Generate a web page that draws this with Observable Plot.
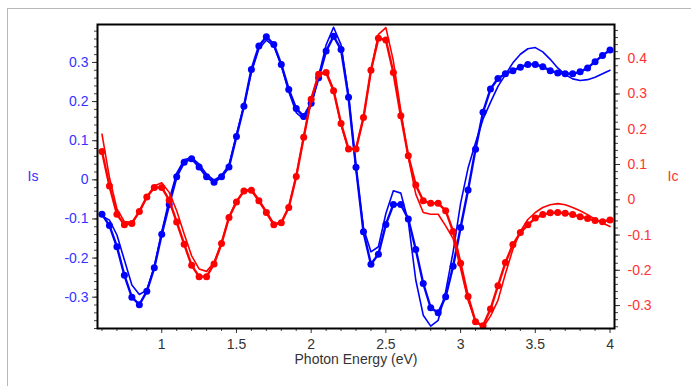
<!DOCTYPE html>
<html>
<head>
<meta charset="utf-8">
<script src="https://cdn.jsdelivr.net/npm/d3@7"></script>
<script src="https://cdn.jsdelivr.net/npm/@observablehq/plot@0.6"></script>
<style>
  html, body { margin: 0; padding: 0; background: #fff; }
  #wrap { position: relative; width: 691px; height: 386px; overflow: hidden; }
  #border { position: absolute; left: 7px; top: 8px; right: -5px; bottom: -5px; border-left: 1px solid #b8b8b8; border-top: 1px solid #b8b8b8; }
  #chart { position: absolute; left: 0; top: 0; }
</style>
</head>
<body>
<div id="wrap"><div id="border"></div><div id="chart"></div></div>
<script>
const energy = [0.6,0.65,0.7,0.75,0.8,0.85,0.9,0.95,1.0,1.05,1.1,1.15,1.2,1.25,1.3,1.35,1.4,1.45,1.5,1.55,1.6,1.65,1.7,1.75,1.8,1.85,1.9,1.95,2.0,2.05,2.1,2.15,2.2,2.25,2.3,2.35,2.4,2.45,2.5,2.55,2.6,2.65,2.7,2.75,2.8,2.85,2.9,2.95,3.0,3.05,3.1,3.15,3.2,3.25,3.3,3.35,3.4,3.45,3.5,3.55,3.6,3.65,3.7,3.75,3.8,3.85,3.9,3.95,4.0];

const isData = [-0.088,-0.117,-0.171,-0.244,-0.300,-0.319,-0.285,-0.225,-0.139,-0.063,0.008,0.045,0.054,0.033,0.008,-0.006,0.008,0.033,0.111,0.188,0.282,0.342,0.366,0.346,0.295,0.231,0.182,0.162,0.196,0.261,0.329,0.367,0.333,0.211,0.032,-0.133,-0.216,-0.190,-0.114,-0.063,-0.063,-0.100,-0.178,-0.265,-0.327,-0.340,-0.299,-0.221,-0.122,-0.026,0.078,0.173,0.232,0.259,0.271,0.279,0.288,0.295,0.295,0.289,0.279,0.273,0.271,0.271,0.276,0.286,0.302,0.318,0.332];

const isFit = [-0.092,-0.103,-0.141,-0.205,-0.269,-0.293,-0.282,-0.222,-0.133,-0.051,0.017,0.051,0.057,0.040,0.014,-0.001,0.011,0.038,0.115,0.190,0.275,0.335,0.357,0.342,0.292,0.225,0.172,0.155,0.190,0.265,0.345,0.390,0.345,0.215,0.030,-0.124,-0.184,-0.171,-0.086,-0.028,-0.034,-0.107,-0.256,-0.346,-0.374,-0.359,-0.286,-0.184,-0.060,0.030,0.095,0.155,0.198,0.239,0.269,0.299,0.321,0.335,0.338,0.327,0.308,0.286,0.269,0.258,0.254,0.256,0.262,0.271,0.280];

const icData = [0.137,0.039,-0.041,-0.071,-0.067,-0.033,0.008,0.035,0.035,-0.001,-0.063,-0.126,-0.186,-0.218,-0.218,-0.182,-0.124,-0.050,-0.006,0.025,0.027,-0.003,-0.036,-0.071,-0.065,-0.022,0.066,0.177,0.285,0.356,0.361,0.309,0.216,0.144,0.144,0.233,0.367,0.458,0.453,0.361,0.238,0.125,0.042,-0.003,-0.010,-0.010,-0.031,-0.090,-0.180,-0.274,-0.346,-0.357,-0.310,-0.244,-0.178,-0.127,-0.093,-0.071,-0.052,-0.042,-0.037,-0.036,-0.038,-0.042,-0.048,-0.053,-0.059,-0.062,-0.057];

const icFit = [0.186,0.063,-0.026,-0.062,-0.064,-0.036,0.008,0.039,0.048,0.021,-0.031,-0.097,-0.159,-0.196,-0.203,-0.178,-0.121,-0.050,-0.004,0.026,0.030,0.000,-0.034,-0.068,-0.064,-0.020,0.068,0.178,0.284,0.356,0.365,0.312,0.212,0.142,0.146,0.233,0.365,0.469,0.488,0.394,0.252,0.120,0.016,-0.036,-0.041,-0.041,-0.074,-0.110,-0.195,-0.285,-0.345,-0.362,-0.330,-0.285,-0.210,-0.140,-0.090,-0.056,-0.036,-0.022,-0.014,-0.011,-0.014,-0.022,-0.031,-0.042,-0.055,-0.066,-0.076];

const xTicks = [1, 1.5, 2, 2.5, 3, 3.5, 4];
const leftTicks = [-0.3, -0.2, -0.1, 0, 0.1, 0.2, 0.3];
const rightTicks = [-0.3, -0.2, -0.1, 0, 0.1, 0.2, 0.3, 0.4];
const xLabel = "Photon Energy (eV)";
const leftLabel = "Is";
const rightLabel = "Ic";

const xDomain = [0.57, 4.03];
const leftDomain = [-0.38, 0.397];
const rightDomain = [-0.365, 0.497];

const BLUE = "#0000ff", RED = "#ff0000";
const BLUE_TXT = "#3333ff", RED_TXT = "#ff3333";

// map right-axis (Ic) values onto the left (Is) scale
const k = (leftDomain[1] - leftDomain[0]) / (rightDomain[1] - rightDomain[0]);
const toLeft = w => leftDomain[0] + (w - rightDomain[0]) * k;
const fromLeft = v => rightDomain[0] + (v - leftDomain[0]) / k;
const fmt = d => String(Math.round(d * 10) / 10);

const rows = energy.map((e, i) => ({e, isD: isData[i], isF: isFit[i], icD: toLeft(icData[i]), icF: toLeft(icFit[i])}));

const xMinor = d3.range(6, 41).map(v => v / 10).filter(v => !xTicks.includes(v));
const leftMinor = d3.range(-19, 20).map(v => v / 50).filter(v => v >= leftDomain[0] && v <= leftDomain[1]);
const rightMinor = d3.range(-18, 25).map(v => v / 50).filter(v => v >= rightDomain[0] && v <= rightDomain[1]);

const chart = Plot.plot({
  width: 691,
  height: 386,
  marginLeft: 97,
  marginRight: 77,
  marginTop: 24,
  marginBottom: 58,
  style: {fontFamily: "'Liberation Sans', Arial, sans-serif", fontSize: "14px", background: "transparent"},
  x: {domain: xDomain, label: null},
  y: {domain: leftDomain, label: null},
  marks: [
    // x axis
    Plot.axisX({ticks: xMinor, tickSize: 3, tickFormat: () => "", color: "#444", label: null}),
    Plot.axisX({ticks: xTicks, tickSize: 5, tickPadding: 5.5, tickFormat: d => String(d), color: "#333", label: null}),
    // left axis
    Plot.axisY({anchor: "left", ticks: leftMinor, tickSize: 3, tickFormat: () => "", color: "#444", label: null}),
    Plot.axisY({anchor: "left", ticks: leftTicks, tickSize: 5, tickFormat: () => "", color: "#333", label: null}),
    Plot.axisY({anchor: "left", ticks: leftTicks, tickSize: 0, tickPadding: 9, tickFormat: fmt, color: BLUE_TXT, label: null}),
    // right axis
    Plot.axisY({anchor: "right", ticks: rightMinor.map(toLeft), tickSize: 3, tickFormat: () => "", color: "#444", label: null}),
    Plot.axisY({anchor: "right", ticks: rightTicks.map(toLeft), tickSize: 5, tickFormat: () => "", color: "#333", label: null}),
    Plot.axisY({anchor: "right", ticks: rightTicks.map(toLeft), tickSize: 0, tickPadding: 13, tickFormat: d => fmt(fromLeft(d)), color: RED_TXT, label: null}),
    // series
    Plot.line(rows, {x: "e", y: "isF", stroke: BLUE, strokeWidth: 1.6, curve: "linear"}),
    Plot.line(rows, {x: "e", y: "isD", stroke: BLUE, strokeWidth: 2.4, curve: "linear"}),
    Plot.dot(rows, {x: "e", y: "isD", r: 3.5, fill: BLUE, stroke: "none"}),
    Plot.line(rows, {x: "e", y: "icF", stroke: RED, strokeWidth: 1.6, curve: "linear"}),
    Plot.line(rows, {x: "e", y: "icD", stroke: RED, strokeWidth: 2.4, curve: "linear"}),
    Plot.dot(rows, {x: "e", y: "icD", r: 3.5, fill: RED, stroke: "none"}),
    Plot.frame({stroke: "#000", strokeWidth: 2}),
    // axis titles
    Plot.text([xLabel], {text: d => d, frameAnchor: "bottom", dy: 35, fill: "#333", fontSize: 14}),
    Plot.text([leftLabel], {text: d => d, frameAnchor: "left", dx: -70, fill: BLUE_TXT, fontSize: 14}),
    Plot.text([rightLabel], {text: d => d, frameAnchor: "right", dx: 64, fill: RED_TXT, fontSize: 14})
  ]
});
document.getElementById("chart").appendChild(chart);
</script>
</body>
</html>
